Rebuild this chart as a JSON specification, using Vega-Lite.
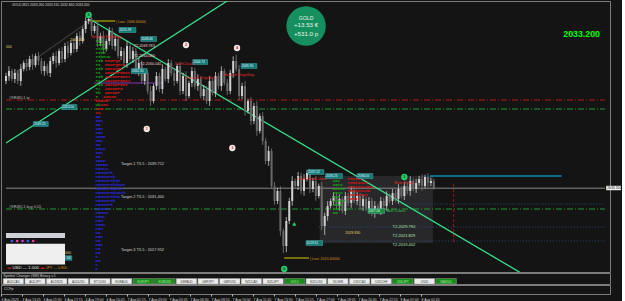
{
"$schema": "https://vega.github.io/schema/vega-lite/v6.json",
"background": "#141414",
"padding": 0,
"spacing": 1,
"bounds": "flush",
"config": {"view": {"stroke": "#7c7c7c", "strokeWidth": 1}, "text": {"font": "Liberation Sans"}, "axis": {"labelFont": "Liberation Sans"}},
"resolve": {"scale": {"x": "independent", "y": "independent", "color": "independent", "size": "independent"}},
"datasets": {
"candles": [
{"b":0,"o":2060,"h":2062.05,"l":2059.2,"c":2061.25},
{"b":1,"o":2061.25,"h":2063.7,"l":2060.05,"c":2062.5},
{"b":2,"o":2062.5,"h":2063.1,"l":2059.9,"c":2060.5},
{"b":3,"o":2060.5,"h":2063,"l":2059.5,"c":2062},
{"b":4,"o":2062,"h":2062.8,"l":2059.2,"c":2060},
{"b":5,"o":2060,"h":2064.2,"l":2058.8,"c":2063},
{"b":6,"o":2063,"h":2065.1,"l":2062.4,"c":2064.5},
{"b":7,"o":2064.5,"h":2065.5,"l":2062.5,"c":2063.5},
{"b":8,"o":2063.5,"h":2066.3,"l":2062.7,"c":2065.5},
{"b":9,"o":2065.5,"h":2066.7,"l":2062.8,"c":2064},
{"b":10,"o":2064,"h":2066.85,"l":2063.4,"c":2066.25},
{"b":11,"o":2066.25,"h":2067.25,"l":2064,"c":2065},
{"b":12,"o":2065,"h":2065.8,"l":2061.7,"c":2062.5},
{"b":13,"o":2062.5,"h":2064.95,"l":2061.3,"c":2063.75},
{"b":14,"o":2063.75,"h":2064.35,"l":2061.4,"c":2062},
{"b":15,"o":2062,"h":2066,"l":2061,"c":2065},
{"b":16,"o":2065,"h":2067.05,"l":2064.2,"c":2066.25},
{"b":17,"o":2066.25,"h":2067.45,"l":2063.3,"c":2064.5},
{"b":18,"o":2064.5,"h":2068.1,"l":2063.9,"c":2067.5},
{"b":19,"o":2067.5,"h":2068.5,"l":2064.5,"c":2065.5},
{"b":20,"o":2065.5,"h":2069.55,"l":2064.7,"c":2068.75},
{"b":21,"o":2068.75,"h":2069.95,"l":2065.8,"c":2067},
{"b":22,"o":2067,"h":2070.1,"l":2066.4,"c":2069.5},
{"b":23,"o":2069.5,"h":2070.5,"l":2067,"c":2068},
{"b":24,"o":2068,"h":2072.05,"l":2067.2,"c":2071.25},
{"b":25,"o":2071.25,"h":2072.45,"l":2068.8,"c":2070},
{"b":26,"o":2070,"h":2073.6,"l":2069.4,"c":2073},
{"b":27,"o":2073,"h":2076,"l":2072,"c":2075},
{"b":28,"o":2075,"h":2076.4,"l":2074.2,"c":2075.5},
{"b":29,"o":2075.5,"h":2076,"l":2071.3,"c":2072.5},
{"b":30,"o":2072.5,"h":2074.35,"l":2071.9,"c":2073.75},
{"b":31,"o":2073.75,"h":2074.75,"l":2068.5,"c":2069.5},
{"b":32,"o":2069.5,"h":2072.05,"l":2068.7,"c":2071.25},
{"b":33,"o":2071.25,"h":2072.45,"l":2066.8,"c":2068},
{"b":34,"o":2068,"h":2070.6,"l":2067.4,"c":2070},
{"b":35,"o":2070,"h":2073.5,"l":2069,"c":2072.5},
{"b":36,"o":2072.5,"h":2073.3,"l":2067.95,"c":2068.75},
{"b":37,"o":2068.75,"h":2071.7,"l":2067.55,"c":2070.5},
{"b":38,"o":2070.5,"h":2071.1,"l":2065.65,"c":2066.25},
{"b":39,"o":2066.25,"h":2068.5,"l":2065.25,"c":2067.5},
{"b":40,"o":2067.5,"h":2068.3,"l":2063.7,"c":2064.5},
{"b":41,"o":2064.5,"h":2069.95,"l":2063.3,"c":2068.75},
{"b":42,"o":2068.75,"h":2069.35,"l":2064.9,"c":2065.5},
{"b":43,"o":2065.5,"h":2068.5,"l":2064.5,"c":2067.5},
{"b":44,"o":2067.5,"h":2068.3,"l":2061.7,"c":2062.5},
{"b":45,"o":2062.5,"h":2065.7,"l":2061.3,"c":2064.5},
{"b":46,"o":2064.5,"h":2065.1,"l":2059.4,"c":2060},
{"b":47,"o":2060,"h":2063,"l":2059,"c":2062},
{"b":48,"o":2062,"h":2062.8,"l":2056.7,"c":2057.5},
{"b":49,"o":2057.5,"h":2058.7,"l":2053.8,"c":2055},
{"b":50,"o":2055,"h":2059.35,"l":2054.4,"c":2058.75},
{"b":51,"o":2058.75,"h":2062.25,"l":2057.75,"c":2061.25},
{"b":52,"o":2061.25,"h":2062.05,"l":2057.2,"c":2058},
{"b":53,"o":2058,"h":2064.2,"l":2056.8,"c":2063},
{"b":54,"o":2063,"h":2063.6,"l":2059.9,"c":2060.5},
{"b":55,"o":2060.5,"h":2065.5,"l":2059.5,"c":2064.5},
{"b":56,"o":2064.5,"h":2065.3,"l":2061.2,"c":2062},
{"b":57,"o":2062,"h":2063.2,"l":2058.8,"c":2060},
{"b":58,"o":2060,"h":2064.35,"l":2059.4,"c":2063.75},
{"b":59,"o":2063.75,"h":2064.75,"l":2056.5,"c":2057.5},
{"b":60,"o":2057.5,"h":2062.05,"l":2056.7,"c":2061.25},
{"b":61,"o":2061.25,"h":2062.45,"l":2055.05,"c":2056.25},
{"b":62,"o":2056.25,"h":2060.1,"l":2055.65,"c":2059.5},
{"b":63,"o":2059.5,"h":2063.5,"l":2058.5,"c":2062.5},
{"b":64,"o":2062.5,"h":2063.3,"l":2057.95,"c":2058.75},
{"b":65,"o":2058.75,"h":2061.7,"l":2057.55,"c":2060.5},
{"b":66,"o":2060.5,"h":2061.1,"l":2055.65,"c":2056.25},
{"b":67,"o":2056.25,"h":2059,"l":2055.25,"c":2058},
{"b":68,"o":2058,"h":2058.8,"l":2054.2,"c":2055},
{"b":69,"o":2055,"h":2061.2,"l":2053.8,"c":2060},
{"b":70,"o":2060,"h":2060.6,"l":2056.4,"c":2057},
{"b":71,"o":2057,"h":2062.25,"l":2056,"c":2061.25},
{"b":72,"o":2061.25,"h":2062.05,"l":2057.95,"c":2058.75},
{"b":73,"o":2058.75,"h":2063.7,"l":2057.55,"c":2062.5},
{"b":74,"o":2062.5,"h":2063.1,"l":2058.9,"c":2059.5},
{"b":75,"o":2059.5,"h":2060.5,"l":2056.5,"c":2057.5},
{"b":76,"o":2057.5,"h":2062.8,"l":2056.7,"c":2062},
{"b":77,"o":2062,"h":2066.2,"l":2060.8,"c":2065},
{"b":78,"o":2065,"h":2066.6,"l":2062.4,"c":2063},
{"b":79,"o":2063,"h":2064,"l":2055.25,"c":2056.25},
{"b":80,"o":2056.25,"h":2059.55,"l":2055.45,"c":2058.75},
{"b":81,"o":2058.75,"h":2059.95,"l":2051.3,"c":2052.5},
{"b":82,"o":2052.5,"h":2055.6,"l":2051.9,"c":2055},
{"b":83,"o":2055,"h":2056,"l":2049,"c":2050},
{"b":84,"o":2050,"h":2054.55,"l":2049.2,"c":2053.75},
{"b":85,"o":2053.75,"h":2054.95,"l":2046.3,"c":2047.5},
{"b":86,"o":2047.5,"h":2051.85,"l":2046.9,"c":2051.25},
{"b":87,"o":2051.25,"h":2052.25,"l":2044,"c":2045},
{"b":88,"o":2045,"h":2045.8,"l":2039.2,"c":2040},
{"b":89,"o":2040,"h":2043.7,"l":2038.8,"c":2042.5},
{"b":90,"o":2042.5,"h":2043.1,"l":2033.15,"c":2033.75},
{"b":91,"o":2033.75,"h":2034.75,"l":2029,"c":2030},
{"b":92,"o":2030,"h":2033.3,"l":2029.2,"c":2032.5},
{"b":93,"o":2032.5,"h":2033.7,"l":2021.3,"c":2022.5},
{"b":94,"o":2022.5,"h":2023.1,"l":2017,"c":2018.75},
{"b":95,"o":2018.75,"h":2026,"l":2017.2,"c":2025},
{"b":96,"o":2025,"h":2030.8,"l":2024.2,"c":2030},
{"b":97,"o":2030,"h":2036.2,"l":2028.8,"c":2035},
{"b":98,"o":2035,"h":2035.6,"l":2033.15,"c":2033.75},
{"b":99,"o":2033.75,"h":2037.25,"l":2032.75,"c":2036.25},
{"b":100,"o":2036.25,"h":2037.05,"l":2031.7,"c":2032.5},
{"b":101,"o":2032.5,"h":2036.7,"l":2031.3,"c":2035.5},
{"b":102,"o":2035.5,"h":2037.8,"l":2034.9,"c":2037},
{"b":103,"o":2037,"h":2038,"l":2032,"c":2033},
{"b":104,"o":2033,"h":2035.8,"l":2032.2,"c":2035},
{"b":105,"o":2035,"h":2036.2,"l":2030.05,"c":2031.25},
{"b":106,"o":2031.25,"h":2034.35,"l":2030.65,"c":2033.75},
{"b":107,"o":2033.75,"h":2034.75,"l":2022.75,"c":2023.75},
{"b":108,"o":2023.75,"h":2027.05,"l":2021.5,"c":2026.25},
{"b":109,"o":2026.25,"h":2029.95,"l":2025.05,"c":2028.75},
{"b":110,"o":2028.75,"h":2030.6,"l":2028.15,"c":2030},
{"b":111,"o":2030,"h":2032.25,"l":2029,"c":2031.25},
{"b":112,"o":2031.25,"h":2032.05,"l":2027.95,"c":2028.75},
{"b":113,"o":2028.75,"h":2031.7,"l":2027.55,"c":2030.5},
{"b":114,"o":2030.5,"h":2031.1,"l":2026.9,"c":2027.5},
{"b":115,"o":2027.5,"h":2032.25,"l":2026.5,"c":2031.25},
{"b":116,"o":2031.25,"h":2032.05,"l":2028.7,"c":2029.5},
{"b":117,"o":2029.5,"h":2033.7,"l":2028.3,"c":2032.5},
{"b":118,"o":2032.5,"h":2033.1,"l":2029.4,"c":2030},
{"b":119,"o":2030,"h":2032.25,"l":2029,"c":2031.25},
{"b":120,"o":2031.25,"h":2032.05,"l":2027.95,"c":2028.75},
{"b":121,"o":2028.75,"h":2031.7,"l":2027.55,"c":2030.5},
{"b":122,"o":2030.5,"h":2031.1,"l":2027.4,"c":2028},
{"b":123,"o":2028,"h":2031,"l":2027,"c":2030},
{"b":124,"o":2030,"h":2030.8,"l":2026.2,"c":2027},
{"b":125,"o":2027,"h":2029.95,"l":2025.8,"c":2028.75},
{"b":126,"o":2028.75,"h":2029.35,"l":2026.9,"c":2027.5},
{"b":127,"o":2027.5,"h":2031,"l":2026.5,"c":2030},
{"b":128,"o":2030,"h":2030.8,"l":2027.95,"c":2028.75},
{"b":129,"o":2028.75,"h":2032.45,"l":2027.55,"c":2031.25},
{"b":130,"o":2031.25,"h":2031.85,"l":2029.4,"c":2030},
{"b":131,"o":2030,"h":2033,"l":2029,"c":2032},
{"b":132,"o":2032,"h":2032.8,"l":2029.7,"c":2030.5},
{"b":133,"o":2030.5,"h":2034.2,"l":2029.3,"c":2033},
{"b":134,"o":2033,"h":2033.6,"l":2030.65,"c":2031.25},
{"b":135,"o":2031.25,"h":2034.75,"l":2030.25,"c":2033.75},
{"b":136,"o":2033.75,"h":2034.55,"l":2031.7,"c":2032.5},
{"b":137,"o":2032.5,"h":2036.2,"l":2031.3,"c":2035},
{"b":138,"o":2035,"h":2035.6,"l":2032.4,"c":2033},
{"b":139,"o":2033,"h":2035.5,"l":2032,"c":2034.5},
{"b":140,"o":2034.5,"h":2036.3,"l":2033.7,"c":2035.5},
{"b":141,"o":2035.5,"h":2036.7,"l":2032.55,"c":2033.75},
{"b":142,"o":2033.75,"h":2036.6,"l":2033.15,"c":2036},
{"b":143,"o":2036,"h":2037,"l":2033.5,"c":2034.5},
{"b":144,"o":2034.5,"h":2035.8,"l":2033.7,"c":2035},
{"b":145,"o":2035,"h":2035.6,"l":2032.8,"c":2033.2}
]
},
"vconcat": [
{
"width": 609, "height": 271,
"resolve": {"scale": {"color": "independent", "size": "independent", "strokeDash": "independent"}},
"layer": [
{"data": {"values": [{"b":106.3,"b2":144.7,"p":2036.25,"p2":2019.5}]},
 "mark": {"type":"rect","fill":"#28282a"},
 "encoding": {
  "x": {"field":"b","type":"quantitative","scale":{"domain":[0,203],"nice":false,"zero":false},"axis":null},
  "x2": {"field":"b2"},
  "y": {"field":"p","type":"quantitative","scale":{"domain":[2012.25,2080],"nice":false,"zero":false},
        "axis":{"orient":"right","title":null,"values":[2079.75,2077.05,2074.35,2071.65,2068.95,2066.25,2063.55,2060.85,2058.15,2055.45,2052.75,2050.05,2047.35,2044.65,2041.95,2039.25,2036.55,2031.15,2028.45,2025.75,2023.05,2020.35,2017.65,2014.95,2012.25],"format":".3f","labelFontSize":3.6,"labelColor":"#c8c8c8","tickSize":2,"tickColor":"#a0a0a0","domainColor":"#8c8c8c","labelPadding":1,"labelFlush":true,"grid":false}},
  "y2": {"field":"p2"}}},
{"data": {"values": [
  {"k":"r1","b":0,"b2":203,"p":2055.25},
  {"k":"g1","b":0,"b2":203,"p":2053.0},
  {"k":"price","b":0,"b2":203,"p":2033.2},
  {"k":"g1","b":0,"b2":203,"p":2028.0},
  {"k":"b1","b":133,"b2":203,"p":2029.25},
  {"k":"b1","b":106,"b2":203,"p":2023.5},
  {"k":"b1","b":106,"b2":203,"p":2020.0},
  {"k":"pu","b":30,"b2":53,"p":2059.5},
  {"k":"ye","b":28,"b2":37,"p":2075},
  {"k":"ye","b":94.3,"b2":102.7,"p":2015.75},
  {"k":"cy","b":143.7,"b2":188.3,"p":2036.25}]},
 "mark": {"type":"rule"},
 "encoding": {
  "x": {"field":"b","type":"quantitative","axis":null},
  "x2": {"field":"b2"},
  "y": {"field":"p","type":"quantitative","axis":null},
  "color": {"field":"k","type":"nominal","scale":{"domain":["r1","g1","price","b1","pu","ye","cy"],"range":["#b01818","#1e9a30","#8a8a8a","#2e4e7a","#9a3cc8","#f0e000","#00c8ff"]},"legend":null},
  "strokeDash": {"field":"k","type":"nominal","scale":{"domain":["r1","g1","price","b1","pu","ye","cy"],"range":[[6,2,1,2],[6,2,1,2],[1,0],[1,2],[1,0],[1,0],[1,0]]},"legend":null},
  "size": {"field":"k","type":"ordinal","scale":{"domain":["r1","g1","price","b1","pu","ye","cy"],"range":[1,1,2,1,1,2,4]},"legend":null}}},
{"data": {"values": [{"b":151.7,"p":2034.25,"p2":2019.5}]},
 "mark": {"type":"rule","color":"#a01414","strokeDash":[3,2],"strokeWidth":1},
 "encoding": {"x":{"field":"b","type":"quantitative","axis":null},"y":{"field":"p","type":"quantitative","axis":null},"y2":{"field":"p2"}}},
{"data": {"values": [
  {"ln":"a","b":0,"p":2044.5},{"ln":"a","b":80,"p":2082.4},
  {"ln":"b","b":28.3,"p":2075.5},{"ln":"b","b":175,"p":2011.8},
  {"ln":"c","b":0.7,"p":2060.75},{"ln":"c","b":28.3,"p":2075}]},
 "mark": {"type":"line","clip":true,"strokeWidth":1.3},
 "encoding": {"x":{"field":"b","type":"quantitative","axis":null},"y":{"field":"p","type":"quantitative","axis":null},
  "color":{"field":"ln","type":"nominal","scale":{"domain":["a","b","c"],"range":["#35e08a","#35e08a","#3a3a3a"]},"legend":null}}},
{"data": {"name":"candles"},
 "mark": {"type":"rule","strokeWidth":0.8},
 "encoding": {"x":{"field":"b","type":"quantitative","axis":null},"y":{"field":"l","type":"quantitative","axis":null},"y2":{"field":"h"},
  "color":{"condition":{"test":"datum.c >= datum.o","value":"#c4c4c4"},"value":"#7a7a7a"}}},
{"data": {"name":"candles"},
 "mark": {"type":"bar","size":2},
 "encoding": {"x":{"field":"b","type":"quantitative","axis":null},"y":{"field":"o","type":"quantitative","axis":null},"y2":{"field":"c"},
  "color":{"condition":{"test":"datum.c >= datum.o","value":"#d0d0d0"},"value":"#686868"}}},
{"data": {"values": [
  {"g":"pg","b":30.3,"p":2070,"t":"TIb"},{"g":"pg","b":30.3,"p":2069,"t":"TIbH"},{"g":"pg","b":30.3,"p":2068,"t":"TIbHJ"},{"g":"pg","b":30.3,"p":2067,"t":"TIbH"},{"g":"pg","b":30.3,"p":2066,"t":"TIbHJK"},{"g":"pg","b":30.3,"p":2065,"t":"TIb"},{"g":"pg","b":30.3,"p":2064,"t":"TI"},{"g":"pg","b":30.3,"p":2063,"t":"TIb"},{"g":"pg","b":30.3,"p":2062,"t":"TI"},{"g":"pg","b":30.3,"p":2061,"t":"TIb"},{"g":"pg","b":30.3,"p":2060,"t":"TI"},{"g":"pg","b":30.3,"p":2059,"t":"TIb"},{"g":"pg","b":30.3,"p":2058,"t":"Ti"},{"g":"pg","b":30.3,"p":2057,"t":"Tb"},{"g":"pg","b":30.3,"p":2056,"t":"T"},{"g":"pg","b":30.3,"p":2054,"t":"Ub"},
  {"g":"pr","b":33.5,"p":2065,"t":"MNOPQR"},{"g":"pr","b":33.5,"p":2064,"t":"MNOPQRSB"},{"g":"pr","b":33.5,"p":2063,"t":"ABCDQRS"},{"g":"pr","b":33.5,"p":2062,"t":"ABCDEFGHIS"},{"g":"pr","b":33.5,"p":2061,"t":"ABCDEFGHST"},{"g":"pr","b":33.5,"p":2060,"t":"ABCDEFGHIJ"},{"g":"pr","b":33.5,"p":2059,"t":"ABCDEFGHI"},{"g":"pr","b":33.5,"p":2058,"t":"ABCDEFG"},{"g":"pr","b":33.5,"p":2057,"t":"ABCDEF"},{"g":"pr","b":33,"p":2056,"t":"ABCDE"},{"g":"pr","b":30.3,"p":2055,"t":"UABCD"},{"g":"pr","b":32,"p":2054,"t":"ABC"},{"g":"pr","b":30.3,"p":2053,"t":"UAB"},{"g":"pr","b":30.3,"p":2052,"t":"UA"},
  {"g":"pb","b":30.3,"p":2051,"t":"AB"},{"g":"pb","b":30.3,"p":2050,"t":"ABC"},{"g":"pb","b":30.3,"p":2049,"t":"AB"},{"g":"pb","b":30.3,"p":2048,"t":"ABD"},{"g":"pb","b":30.3,"p":2047,"t":"ABC"},{"g":"pb","b":30.3,"p":2046,"t":"ABDE"},{"g":"pb","b":30.3,"p":2045,"t":"ABC"},{"g":"pb","b":30.3,"p":2044,"t":"AB"},{"g":"pb","b":30.3,"p":2043,"t":"ABCD"},{"g":"pb","b":30.3,"p":2042,"t":"ABC"},{"g":"pb","b":30.3,"p":2041,"t":"AB"},{"g":"pb","b":30.3,"p":2040,"t":"ABCD"},{"g":"pb","b":30.3,"p":2039,"t":"ABCDE"},{"g":"pb","b":30.3,"p":2038,"t":"CBHLM"},{"g":"pb","b":30.3,"p":2037,"t":"CBHKMFk"},{"g":"pb","b":30.3,"p":2036,"t":"CBHKMF9k"},{"g":"pb","b":30.3,"p":2035,"t":"CBHKMF9kdo"},{"g":"pb","b":30.3,"p":2034,"t":"CBHKMF9kdoDe"},{"g":"pb","b":30.3,"p":2033,"t":"CBHKMFGdoDe"},{"g":"pb","b":30.3,"p":2032,"t":"CBHKMFGdoDeb"},{"g":"pb","b":30.3,"p":2031,"t":"CBHKMF9kdo"},{"g":"pb","b":30.3,"p":2030,"t":"CBHKMF9k"},{"g":"pb","b":30.3,"p":2029,"t":"CBHKMFk"},{"g":"pb","b":30.3,"p":2028,"t":"CBHKMF"},{"g":"pb","b":30.3,"p":2027,"t":"CBHKM"},{"g":"pb","b":30.3,"p":2026,"t":"CBHL"},{"g":"pb","b":30.3,"p":2025,"t":"CBH"},{"g":"pb","b":30.3,"p":2024,"t":"CBHK"},{"g":"pb","b":30.3,"p":2023,"t":"CBH"},{"g":"pb","b":30.3,"p":2022,"t":"CB"},{"g":"pb","b":30.3,"p":2021,"t":"CBH"},{"g":"pb","b":30.3,"p":2020,"t":"CB"},{"g":"pb","b":30.3,"p":2019,"t":"CBK"},{"g":"pb","b":30.3,"p":2018,"t":"CB"},{"g":"pb","b":30.3,"p":2017,"t":"CB"},{"g":"pb","b":30.3,"p":2016,"t":"C"},{"g":"pb","b":30.3,"p":2015,"t":"CB"},{"g":"pb","b":30.3,"p":2014,"t":"C"},{"g":"pb","b":30.3,"p":2013,"t":"C"},
  {"g":"pg","b":110.7,"p":2035,"t":"ABC"},{"g":"pg","b":110.7,"p":2034,"t":"ABCD"},{"g":"pg","b":110.7,"p":2033,"t":"ABCDE"},{"g":"pg","b":110.7,"p":2032,"t":"ABCD"},{"g":"pg","b":110.7,"p":2031,"t":"ABC"},{"g":"pg","b":110.7,"p":2030,"t":"ABCDE"},{"g":"pg","b":110.7,"p":2029,"t":"ABCD"},{"g":"pg","b":110.7,"p":2028,"t":"ABC"},{"g":"pg","b":110.7,"p":2027,"t":"AB"},
  {"g":"pr","b":115.7,"p":2035.5,"t":"FGHIJK"},{"g":"pr","b":115.7,"p":2034.5,"t":"FGHIJKLM"},{"g":"pr","b":115.7,"p":2033.5,"t":"FGHIJKLMNO"},{"g":"pr","b":115.7,"p":2032.5,"t":"FGHIJKLMN"},{"g":"pr","b":115.7,"p":2031.5,"t":"FGHIJKLM"},{"g":"pr","b":115.7,"p":2030.5,"t":"FGHIJ"}]},
 "mark": {"type":"text","align":"left","baseline":"middle","font":"Liberation Mono","fontSize":4.2,"fontWeight":"bold"},
 "encoding": {"x":{"field":"b","type":"quantitative","axis":null},"y":{"field":"p","type":"quantitative","axis":null},"text":{"field":"t"},
  "color":{"field":"g","type":"nominal","scale":{"domain":["pg","pr","pb"],"range":["#14a014","#d41414","#2828d8"]},"legend":null}}},
{"data": {"values": [
  {"k":"t","b":38.3,"b2":44,"p0":2072.15,"p1":2073.35,"p":2072.75,"t":"2070.78"},
  {"k":"t","b":45.7,"b2":51,"p0":2069.9,"p1":2071.1,"p":2070.5,"t":"2068.46"},
  {"k":"t","b":63.3,"b2":68.3,"p0":2064.15,"p1":2065.35,"p":2064.75,"t":"2064.74"},
  {"k":"t","b":79.7,"b2":85,"p0":2063.15,"p1":2064.35,"p":2063.75,"t":"2065.90"},
  {"k":"t","b":42.5,"b2":47.8,"p0":2061.9,"p1":2063.1,"p":2062.5,"t":"2062.50"},
  {"k":"t","b":19,"b2":24,"p0":2052.9,"p1":2054.1,"p":2053.5,"t":"2053.50"},
  {"k":"t","b":9.3,"b2":14.3,"p0":2048.65,"p1":2049.85,"p":2049.25,"t":"2049.25"},
  {"k":"t","b":102.3,"b2":107.7,"p0":2036.65,"p1":2037.85,"p":2037.25,"t":"2037.22"},
  {"k":"t","b":108.3,"b2":114,"p0":2035.65,"p1":2036.85,"p":2036.25,"t":"2036.25"},
  {"k":"t","b":119,"b2":124.3,"p0":2035.65,"p1":2036.85,"p":2036.25,"t":"2036.00"},
  {"k":"gr","b":122.7,"b2":128.3,"p0":2026.9,"p1":2028.1,"p":2027.5,"t":"2027.50"},
  {"k":"t","b":101.7,"b2":107.3,"p0":2018.9,"p1":2020.1,"p":2019.5,"t":"2019.51"},
  {"k":"t","b":20,"b2":22.3,"p0":2015.2,"p1":2016.3,"p":2015.75,"t":"000"}]},
 "resolve": {"scale": {"color": "independent"}},
 "layer": [
  {"mark": {"type":"rect","stroke":"#56b8b8","strokeWidth":0.5},
   "encoding": {"x":{"field":"b","type":"quantitative","axis":null},"x2":{"field":"b2"},"y":{"field":"p0","type":"quantitative","axis":null},"y2":{"field":"p1"},
    "color":{"field":"k","type":"nominal","scale":{"domain":["t","gr"],"range":["#0f7878","#1c8c3c"]},"legend":null}}},
  {"mark": {"type":"text","align":"left","baseline":"middle","fontSize":3.2,"color":"#e6ffff","dx":0.5},
   "encoding": {"x":{"field":"b","type":"quantitative","axis":null},"y":{"field":"p","type":"quantitative","axis":null},"text":{"field":"t"}}}
 ]},
{"data": {"values": [
  {"g":"title","b":2,"p":2079,"t":"GOLD,M15  2033.260 2033.310 2032.840 2033.200"},
  {"g":"yel","b":21.7,"p":2070.25,"t":"2063.010"},
  {"g":"yel","b":0,"p":2068.5,"t":"000"},
  {"g":"ora","b":37.3,"p":2074.75,"t":"| Low: 2066.60000"},
  {"g":"pink","b":43.3,"p":2068.75,"t":"T2-2069.783"},
  {"g":"pink","b":43.3,"p":2066.2,"t":"T2-2064.040"},
  {"g":"pink","b":45.5,"p":2064.3,"t":"T2-2060.040"},
  {"g":"red","b":29,"p":2071.1,"t":"Bearish Engulfing"},
  {"g":"red","b":57.3,"p":2064.25,"t":"DarkCloud"},
  {"g":"red","b":61,"p":2060.75,"t":"Bearish Engulfing"},
  {"g":"red","b":74,"p":2061.5,"t":"Bearish Engulfing"},
  {"g":"grey","b":1,"p":2055.75,"t":"#SR4KL1 tp"},
  {"g":"grey","b":1,"p":2028.5,"t":"#SR4KL1 buy 0.01"},
  {"g":"target","b":39,"p":2039.25,"t":"Target-1 T3-5 : 2039.712"},
  {"g":"target","b":39,"p":2031,"t":"Target-2 T3-5 : 2031.400"},
  {"g":"target","b":39,"p":2017.75,"t":"Target-3 T3-5 : 2017.952"},
  {"g":"yel2","b":115,"p":2022,"t":"2029.930"},
  {"g":"lgreen","b":131,"p":2023.5,"t":"T2-2029.790"},
  {"g":"lgreen","b":131,"p":2021.25,"t":"T2-2021.829"},
  {"g":"lgreen","b":131,"p":2019,"t":"T2-2019.402"},
  {"g":"red","b":98.7,"p":2035.5,"t":"DarkCloud Cover"},
  {"g":"red","b":131.7,"p":2034.5,"t":"Bear Sharp"},
  {"g":"green","b":129,"p":2027.5,"t":"Bull Cross"},
  {"g":"ora","b":103,"p":2015.5,"t":"| Low: 2013.40000"},
  {"g":"dark","b":0.7,"p":2021.4,"t":"On/OFF Settings: Del(All)"},
  {"g":"black","b":0.7,"p":2018.6,"t":"ProfileDataTF   : M30"},
  {"g":"black","b":0.7,"p":2017.65,"t":"ProfileTF         : H1"},
  {"g":"black","b":0.7,"p":2016.7,"t":"TPO               : H1"},
  {"g":"black","b":0.7,"p":2015.75,"t":"TPONumberOfBars : 3 (Hourly)"},
  {"g":"black","b":0.7,"p":2014.8,"t":"ProfileNumber   : 10 (2 Hours)"},
  {"g":"white","b":2.2,"p":2013.2,"t":"USD — 1.000"},
  {"g":"ora","b":13.5,"p":2013.2,"t":"JPY — 0.800"},
  {"g":"yel2","b":20,"p":2016.9,"t":"000"}]},
 "mark": {"type":"text","align":"left","baseline":"middle"},
 "encoding": {"x":{"field":"b","type":"quantitative","axis":null},"y":{"field":"p","type":"quantitative","axis":null},"text":{"field":"t"},
  "color":{"field":"g","type":"nominal","scale":{"domain":["title","yel","yel2","ora","pink","red","grey","target","lgreen","green","dark","black","white"],"range":["#d8d8d8","#e6d36a","#e6d36a","#d89020","#f0c8c8","#e02828","#b8b8b8","#d8d8d8","#b8e8b8","#30d050","#1a1a80","#202020","#e8e8e8"]},"legend":null},
  "size":{"field":"g","type":"ordinal","scale":{"domain":["title","yel","yel2","ora","pink","red","grey","target","lgreen","green","dark","black","white"],"range":[3.4,4.3,3.6,3.4,3.6,3.2,3.4,4.4,3.6,3.4,3.4,3.1,3.4]},"legend":null}}},
{"data": {"values": [
  {"k":"hdr","b":0,"b2":20,"p":2020.75,"p2":2022},
  {"k":"body","b":0,"b2":20,"p":2014.1,"p2":2019.3},
  {"k":"usd","b":0.5,"b2":1.8,"p":2013.05,"p2":2013.35},
  {"k":"jpy","b":11.8,"b2":13.1,"p":2013.05,"p2":2013.35}]},
 "mark": {"type":"rect"},
 "encoding": {"x":{"field":"b","type":"quantitative","axis":null},"x2":{"field":"b2"},"y":{"field":"p","type":"quantitative","axis":null},"y2":{"field":"p2"},
  "color":{"field":"k","type":"nominal","scale":{"domain":["hdr","body","usd","jpy"],"range":["#cfcfd6","#efefef","#e02020","#e02020"]},"legend":null}}},
{"data": {"values": [
  {"k":"bl","b":2,"p":2020},{"k":"pk","b":3.8,"p":2020},{"k":"mg","b":5.6,"p":2020},{"k":"bl","b":7.4,"p":2020},{"k":"pk","b":9.2,"p":2020}]},
 "mark": {"type":"point","filled":true,"shape":"circle","size":7,"opacity":1},
 "encoding": {"x":{"field":"b","type":"quantitative","axis":null},"y":{"field":"p","type":"quantitative","axis":null},
  "color":{"field":"k","type":"nominal","scale":{"domain":["bl","pk","mg"],"range":["#3060ff","#ff3c96","#d03cd0"]},"legend":null}}},
{"data": {"values": [
  {"k":"g","b":28,"p":2076.5,"n":"5"},{"k":"w","b":61,"p":2069,"n":"2"},{"k":"w","b":78.3,"p":2068.25,"n":"4"},
  {"k":"w","b":47.7,"p":2048,"n":"1"},{"k":"w","b":76.7,"p":2043.25,"n":"3"},{"k":"g","b":135,"p":2036,"n":"1"},{"k":"g","b":94.3,"p":2013,"n":"0"}]},
 "resolve": {"scale": {"color": "independent"}},
 "layer": [
  {"mark": {"type":"point","filled":true,"shape":"circle","size":40,"opacity":1},
   "encoding": {"x":{"field":"b","type":"quantitative","axis":null},"y":{"field":"p","type":"quantitative","axis":null},
    "color":{"field":"k","type":"nominal","scale":{"domain":["g","w"],"range":["#22cc66","#f2e8e8"]},"legend":null}}},
  {"mark": {"type":"text","align":"center","baseline":"middle","fontSize":4,"fontWeight":"bold"},
   "encoding": {"x":{"field":"b","type":"quantitative","axis":null},"y":{"field":"p","type":"quantitative","axis":null},"text":{"field":"n"},
    "color":{"field":"k","type":"nominal","scale":{"domain":["g","w"],"range":["#0b3b1e","#e02020"]},"legend":null}}}
 ]},
{"data": {"values": [{"b":97.7,"p":2024.3}]},
 "mark": {"type":"point","filled":true,"shape":"triangle-up","size":18,"color":"#22d060","opacity":1},
 "encoding": {"x":{"field":"b","type":"quantitative","axis":null},"y":{"field":"p","type":"quantitative","axis":null}}},
{"data": {"values": [{"b":101.7,"p":2073.75}]},
 "mark": {"type":"point","filled":true,"shape":"circle","size":1560,"color":"#168f5e","opacity":1},
 "encoding": {"x":{"field":"b","type":"quantitative","axis":null},"y":{"field":"p","type":"quantitative","axis":null}}},
{"data": {"values": [{"g":"s","b":101.7,"p":2075.8,"t":"GOLD"},{"g":"l","b":101.7,"p":2073.9,"t":"+13.53 €"},{"g":"l","b":101.7,"p":2071.8,"t":"+531.0 p"}]},
 "mark": {"type":"text","align":"center","baseline":"middle","color":"#e8f4ec"},
 "encoding": {"x":{"field":"b","type":"quantitative","axis":null},"y":{"field":"p","type":"quantitative","axis":null},"text":{"field":"t"},
  "size":{"field":"g","type":"ordinal","scale":{"domain":["s","l"],"range":[5.2,6.2]},"legend":null}}},
{"data": {"values": [{"b":201.3,"p":2071.75,"t":"2033.200"}]},
 "mark": {"type":"text","align":"right","baseline":"middle","fontSize":8.8,"fontWeight":"bold","font":"Liberation Sans","color":"#00ff00"},
 "encoding": {"x":{"field":"b","type":"quantitative","axis":null},"y":{"field":"p","type":"quantitative","axis":null},"text":{"field":"t"}}},
{"data": {"values": [{"b":203.4,"b2":208.4,"p0":2032.7,"p1":2033.8,"p":2033.25,"t":"2033.200"}]},
 "layer": [
  {"mark": {"type":"rect","color":"#f4f4f4"},
   "encoding": {"x":{"field":"b","type":"quantitative","axis":null},"x2":{"field":"b2"},"y":{"field":"p0","type":"quantitative","axis":null},"y2":{"field":"p1"}}},
  {"mark": {"type":"text","align":"left","baseline":"middle","fontSize":3.4,"color":"#101010","dx":1},
   "encoding": {"x":{"field":"b","type":"quantitative","axis":null},"y":{"field":"p","type":"quantitative","axis":null},"text":{"field":"t"}}}
 ]}
]
},
{
"width": 609, "height": 11,
"resolve": {"scale": {"color": "independent"}},
"layer": [
{"data": {"values": [
  {"k":0,"s":"AUDCAD","on":"n"},{"k":1,"s":"AUDJPY","on":"n"},{"k":2,"s":"AUDNZD","on":"n"},{"k":3,"s":"AUDUSD","on":"n"},{"k":4,"s":"BTCUSD","on":"n"},{"k":5,"s":"EURAUD","on":"n"},{"k":6,"s":"EURJPY","on":"y"},{"k":7,"s":"EURUSD","on":"y"},{"k":8,"s":"GBPAUD","on":"n"},{"k":9,"s":"GBPJPY","on":"n"},{"k":10,"s":"GBPUSD","on":"n"},{"k":11,"s":"NZDCAD","on":"n"},{"k":12,"s":"NZDJPY","on":"n"},{"k":13,"s":"GOLD","on":"y"},{"k":14,"s":"NZDUSD","on":"n"},{"k":15,"s":"SILVER","on":"n"},{"k":16,"s":"USDCAD","on":"n"},{"k":17,"s":"USDCHF","on":"n"},{"k":18,"s":"USDJPY","on":"y"},{"k":19,"s":"US30","on":"n"},{"k":20,"s":"NAS100","on":"y"}]},
 "resolve": {"scale": {"color": "independent"}},
 "layer": [
  {"mark": {"type":"bar","stroke":"#9a9a9a","strokeWidth":0.5},
   "encoding": {"x":{"field":"k","type":"ordinal","scale":{"domain":[0,1,2,3,4,5,6,7,8,9,10,11,12,13,14,15,16,17,18,19,20,21,22,23,24,25,26,27],"paddingInner":0.05,"paddingOuter":0.1},"axis":null},
    "y":{"datum":0,"type":"quantitative","scale":{"domain":[0,11],"nice":false,"zero":false},"axis":null},"y2":{"datum":5.5},
    "color":{"field":"on","type":"nominal","scale":{"domain":["n","y"],"range":["#ececec","#1a8a1a"]},"legend":null}}},
  {"mark": {"type":"text","align":"center","baseline":"middle","fontSize":3},
   "encoding": {"x":{"field":"k","type":"ordinal","axis":null},"y":{"datum":2.75,"type":"quantitative","axis":null},"text":{"field":"s"},
    "color":{"field":"on","type":"nominal","scale":{"domain":["n","y"],"range":["#404040","#a8f0a8"]},"legend":null}}}
 ]},
{"data": {"values": [{"k":0,"t":"Symbol Changer (SW) Binary v.1"}]},
 "mark": {"type":"text","align":"left","baseline":"middle","fontSize":3.6,"color":"#d0d0d0"},
 "encoding": {"x":{"field":"k","type":"ordinal","bandPosition":0,"axis":null},"y":{"datum":8.2,"type":"quantitative","axis":null},"text":{"field":"t"}}}
]
},
{
"width": 609, "height": 9,
"layer": [
{"data": {"values": [{"b":1,"t":"CCFp"}]},
 "mark": {"type":"text","align":"left","baseline":"middle","fontSize":3.6,"color":"#d0d0d0"},
 "encoding": {
  "x": {"field":"b","type":"quantitative","scale":{"domain":[0,203],"nice":false,"zero":false},
        "axis":{"orient":"bottom","title":null,"values":[0,7,14,21,28,35,42,49,56,63,70,77,84,91,98,105,112,119,126,133,140],
         "labelExpr":"['4 Aug 2023','4 Aug 13:45','4 Aug 15:30','4 Aug 17:15','4 Aug 19:00','4 Aug 20:45','7 Aug 01:15','7 Aug 03:00','7 Aug 04:45','7 Aug 06:30','7 Aug 08:15','7 Aug 10:00','7 Aug 11:45','7 Aug 13:30','7 Aug 15:15','7 Aug 17:00','7 Aug 18:45','7 Aug 20:30','7 Aug 22:15','8 Aug 01:00','8 Aug 02:45'][round(datum.value/7)]",
         "labelAlign":"left","labelFontSize":3.4,"labelColor":"#d0d0d0","tickSize":2,"tickColor":"#c0c0c0","domain":false,"labelPadding":1,"grid":false,"labelOverlap":false,"labelFlush":false}},
  "y": {"datum":5.5,"type":"quantitative","scale":{"domain":[0,9],"nice":false,"zero":false},"axis":null},
  "text": {"field":"t"}}}
]
}
]
}
